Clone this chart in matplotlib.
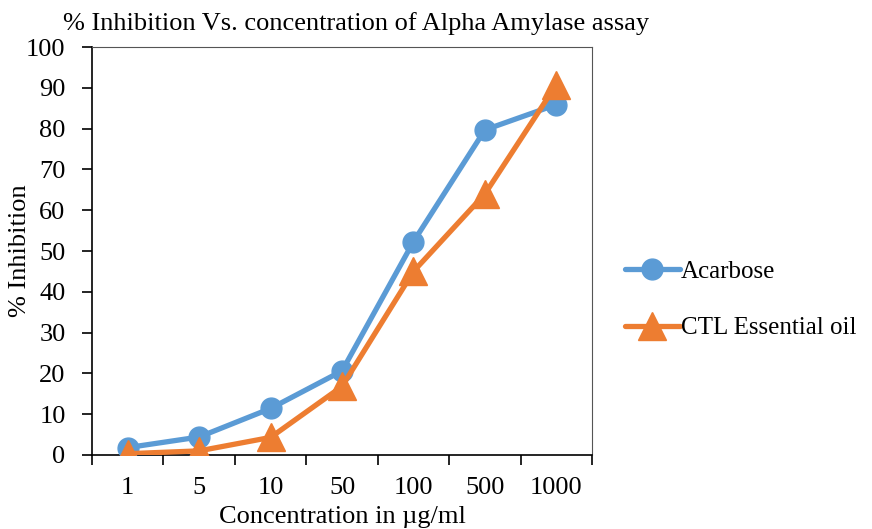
import numpy as np
import matplotlib
matplotlib.use("Agg")
import matplotlib.pyplot as plt
from matplotlib.ticker import FixedLocator, NullFormatter

plt.rcParams["font.family"] = ["Liberation Serif", "DejaVu Serif"]

concentrations = ["1", "5", "10", "50", "100", "500", "1000"]
acarbose = [1.8, 4.4, 11.4, 20.6, 52.3, 79.7, 85.9]
ctl_oil = [0.3, 1.0, 4.3, 16.8, 45.0, 64.0, 90.8]

FS = 19

fig = plt.figure(figsize=(8.72, 5.29), dpi=100)
ax = fig.add_axes([0.1055, 0.140, 0.5735, 0.771])

x = np.arange(len(concentrations))
ax.plot(x, acarbose, color="#5B9BD5", lw=3.8, marker="o", ms=15,
        label="Acarbose", solid_capstyle="round", zorder=3)
ax.plot(x, ctl_oil, color="#ED7D31", lw=3.8, marker="^", ms=20,
        label="CTL Essential oil", solid_capstyle="round", zorder=4)

ax.set_xlim(-0.5, len(concentrations) - 0.5)
ax.set_ylim(0, 100)
ax.set_yticks(np.arange(0, 101, 10))
ax.set_xticks(x)
ax.set_xticklabels(concentrations)
ax.xaxis.set_minor_locator(FixedLocator(np.arange(-0.5, len(concentrations), 1.0)))
ax.xaxis.set_minor_formatter(NullFormatter())
ax.tick_params(axis="x", which="major", length=0, labelsize=FS, pad=16)
ax.tick_params(axis="x", which="minor", length=7, width=1.2, direction="out")
ax.tick_params(axis="y", which="major", length=7, width=1.2, direction="out",
               labelsize=FS, pad=12)

for side in ["top", "right"]:
    ax.spines[side].set_color("#555555")
    ax.spines[side].set_linewidth(0.8)
for side in ["left", "bottom"]:
    ax.spines[side].set_color("black")
    ax.spines[side].set_linewidth(1.2)

ax.set_xlabel("Concentration in \u00b5g/ml", fontsize=FS)
ax.xaxis.set_label_coords(0.5, -0.125)
ax.set_ylabel("% Inhibition", fontsize=FS)
ax.yaxis.set_label_coords(-0.122, 0.5)
fig.text(0.072, 0.955, "% Inhibition Vs. concentration of Alpha Amylase assay",
         fontsize=FS, ha="left", va="center")

ax.legend(loc="center left", bbox_to_anchor=(1.02, 0.38), frameon=False,
          fontsize=18, handlelength=2.2, handletextpad=0.05, labelspacing=1.35)

fig.savefig("out.png", dpi=100)
